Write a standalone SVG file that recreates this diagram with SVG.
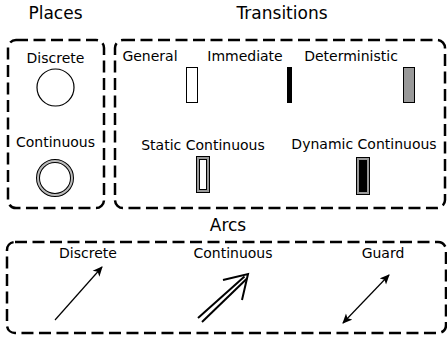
<svg xmlns="http://www.w3.org/2000/svg" width="447" height="339" viewBox="0 0 447 339">
<style>
text{font-family:"DejaVu Sans",sans-serif;fill:#000;text-anchor:middle}
.title{font-size:17px}
.lbl{font-size:14px}
.box{fill:none;stroke:#000;stroke-width:2.5;stroke-dasharray:12,5.5}
.arc{stroke:#000;fill:none}
</style>
<defs>
<marker id="ah" viewBox="0 0 10 10" refX="9" refY="5" markerWidth="10" markerHeight="10" markerUnits="userSpaceOnUse" orient="auto-start-reverse">
<path d="M0,0.5 L10,5 L0,9.5 L2.5,5 Z" fill="#000"/>
</marker>
</defs>
<rect width="447" height="339" fill="#fff"/>
<g id="places">
<text class="title" x="55.5" y="19">Places</text>
<rect class="box" x="8" y="40" width="96" height="168" rx="8"/>
<g id="place-discrete">
<text class="lbl" x="55.5" y="63">Discrete</text>
<circle cx="55.5" cy="87.5" r="18.5" fill="#fff" stroke="#000" stroke-width="1.2"/>
</g>
<g id="place-continuous">
<text class="lbl" x="55.5" y="147">Continuous</text>
<circle cx="55" cy="178" r="17" fill="#fff" stroke="#000" stroke-width="4"/>
<circle cx="55" cy="178" r="17" fill="none" stroke="#bbb" stroke-width="2"/>
</g>
</g>
<g id="transitions">
<text class="title" x="282" y="19">Transitions</text>
<rect class="box" x="115" y="40" width="330" height="168" rx="8"/>
<g id="t-general">
<text class="lbl" x="150" y="61">General</text>
<rect x="186.5" y="67.5" width="11" height="35" fill="#fff" stroke="#000" stroke-width="1"/>
</g>
<g id="t-immediate">
<text class="lbl" x="245" y="61">Immediate</text>
<rect x="287" y="67" width="5" height="36" fill="#000"/>
</g>
<g id="t-deterministic">
<text class="lbl" x="351" y="61">Deterministic</text>
<rect x="403.5" y="67.5" width="11" height="35" fill="#999" stroke="#000" stroke-width="1"/>
</g>
<g id="t-static">
<text class="lbl" x="203" y="150">Static Continuous</text>
<rect x="198" y="158" width="10" height="33" fill="#fff" stroke="#000" stroke-width="4"/>
<rect x="198" y="158" width="10" height="33" fill="none" stroke="#999" stroke-width="2"/>
</g>
<g id="t-dynamic">
<text class="lbl" x="364" y="149">Dynamic Continuous</text>
<rect x="358" y="159" width="10" height="34" fill="#000" stroke="#000" stroke-width="4"/>
<rect x="358" y="159" width="10" height="34" fill="none" stroke="#999" stroke-width="2"/>
</g>
</g>
<g id="arcs">
<text class="title" x="228" y="231">Arcs</text>
<rect class="box" x="7" y="242" width="439" height="91" rx="8"/>
<text class="lbl" x="88" y="258">Discrete</text>
<text class="lbl" x="233" y="258">Continuous</text>
<text class="lbl" x="383" y="258">Guard</text>
</g>
<g id="connectors">
<line class="arc" x1="55" y1="320" x2="102" y2="267" stroke-width="1.2" marker-end="url(#ah)"/>
<g id="arc-continuous" class="arc" stroke-width="2">
<line x1="198" y1="318" x2="244.5" y2="276.5"/>
<line x1="202" y1="322" x2="246.5" y2="279"/>
<polyline points="223,280 248,274 242,300"/>
</g>
<line class="arc" x1="343" y1="323" x2="389" y2="275" stroke-width="1.2" marker-start="url(#ah)" marker-end="url(#ah)"/>
</g>
</svg>
